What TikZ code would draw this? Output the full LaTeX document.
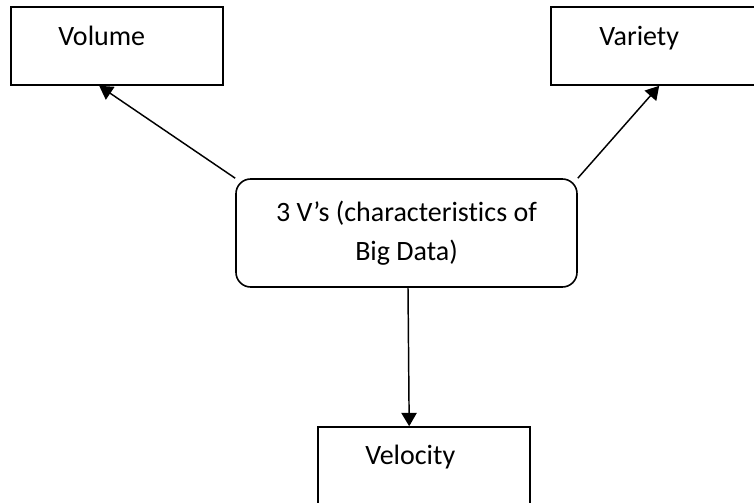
\documentclass[tikz,border=0pt]{standalone}
\usepackage{fontspec}
\setmainfont{Carlito}[Ligatures=NoCommon]
\usetikzlibrary{arrows.meta,calc}
\begin{document}
\begin{tikzpicture}[x=0.75pt,y=-0.75pt,
  box/.style={draw,line width=1.2pt,inner sep=0pt,rectangle},
  lbl/.style={anchor=base west,inner sep=0pt,font=\fontsize{21}{25}\selectfont},
  conn/.style={line width=1.1pt,-{Triangle[length=10pt,width=11.5pt]}}]
\clip (0,0) rectangle (754,503);
% boxes
\node[box,minimum width=159pt,minimum height=58.5pt] (vol) at (117,46) {};
\node[box,minimum width=164.25pt,minimum height=58.5pt] (var) at (660.5,46) {};
\node[box,minimum width=159pt,minimum height=69.75pt] (vel) at (424,473.5) {};
\node[box,rounded corners=11pt,minimum width=255.75pt,minimum height=81pt,
      align=center,font=\fontsize{21}{29.5}\selectfont] (c) at (406.5,233)
      {3 V’s (characteristics of\\Big Data)};
% labels
\node[lbl] (volt) at (58,46) {Volume};
\node[lbl] (vart) at (599,46) {Variety};
\node[lbl] (velt) at (365,464) {Velocity};
% tip points
\coordinate (volTip) at ($(vol.south west)+(89,0)$);
\coordinate (varTip) at ($(var.south west)+(109,0)$);
\coordinate (velTip) at ($(vel.north west)+(92,0)$);
% connectors
\draw[conn] (c.north west) -- (volTip);
\draw[conn] (c.north east) -- (varTip);
\draw[conn] ($(c.south)+(1.5,0)$) -- (velTip);
\end{tikzpicture}
\end{document}
